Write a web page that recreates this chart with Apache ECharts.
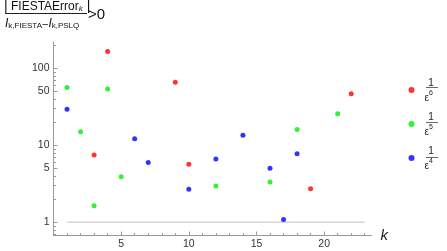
<!DOCTYPE html>
<html><head><meta charset="utf-8">
<script src="https://cdn.jsdelivr.net/npm/echarts@6/dist/echarts.min.js"></script>
<style>html,body{margin:0;padding:0;background:#fff}#c{width:447px;height:251px}</style>
</head><body><div id="c"></div>
<script>
// Data: [k, value]
const eps6 = [[3, 7.5], [4, 166], [9, 66], [10, 5.7], [19, 2.73], [22, 46.8]];
const eps5 = [[1, 56.6], [2, 15], [3, 1.64], [4, 54], [5, 3.9], [12, 2.96], [16, 3.33], [18, 16.1], [21, 25.7]];
const eps4 = [[1, 29.4], [6, 12.2], [7, 6.0], [10, 2.69], [12, 6.64], [14, 13.5], [16, 5.02], [17, 1.09], [18, 7.8]];
const refLine = [[1, 1], [23, 1]];
const xMajor = [5, 10, 15, 20];
const xMinor = [1, 2, 3, 4, 6, 7, 8, 9, 11, 12, 13, 14, 16, 17, 18, 19, 21, 22, 23];
const yMajor = [1, 5, 10, 50, 100];
const yMinor = [0.7, 0.8, 0.9, 2, 3, 4, 6, 7, 8, 9, 20, 30, 40, 60, 70, 80, 90, 200];
const seriesNames = ['e6', 'e5', 'e4'];
const seriesPowers = {e6: '6', e5: '5', e4: '4'};

const axisColor = '#9a9a9a';
const font = 'Liberation Sans, Arial, sans-serif';
const chart = echarts.init(document.getElementById('c'));
const legendRich = {
  n: {fontSize: 10, fontFamily: font, color: '#222', lineHeight: 12, align: 'center', width: 13},
  gap: {fontSize: 2, lineHeight: 1},
  d: {fontSize: 10, fontFamily: font, color: '#222', lineHeight: 13, verticalAlign: 'bottom'},
  s: {fontSize: 7, fontFamily: font, color: '#222', lineHeight: 13, verticalAlign: 'top'}
};
const legendTop = 73, legendStep = 35;
const fractionBars = seriesNames.map((n, i) => ({
  type: 'rect', left: 426, top: legendTop + 14 + i * legendStep,
  shape: {width: 12, height: 0.8}, style: {fill: '#444'}
}));
chart.setOption({
  animation: false,
  grid: {left: 53.5, top: 42, right: 75.5, bottom: 15.5, containLabel: false},
  xAxis: [{
    type: 'value', min: 0, max: 23.5,
    name: 'k', nameLocation: 'end', nameGap: 9,
    nameTextStyle: {fontStyle: 'italic', fontSize: 15, fontFamily: font, color: '#222', verticalAlign: 'middle'},
    axisLine: {lineStyle: {color: axisColor, width: 1}},
    axisTick: {inside: true, length: 4, customValues: xMajor, lineStyle: {color: axisColor}},
    axisLabel: {customValues: xMajor, fontSize: 10.5, fontFamily: font, color: '#333', margin: 3, showMaxLabel: true},
    splitLine: {show: false}
  }, {
    type: 'value', min: 0, max: 23.5, position: 'bottom',
    axisLine: {show: false},
    axisTick: {inside: true, length: 2.5, customValues: xMinor, lineStyle: {color: axisColor}},
    axisLabel: {show: false}, splitLine: {show: false}
  }],
  yAxis: [{
    type: 'log', logBase: 10, min: 0.674, max: 220,
    axisLine: {show: true, lineStyle: {color: axisColor, width: 1}},
    axisTick: {show: true, inside: true, length: 4, customValues: yMajor, lineStyle: {color: axisColor}},
    axisLabel: {customValues: yMajor, fontSize: 10.5, fontFamily: font, color: '#333', margin: 4},
    splitLine: {show: false}
  }, {
    type: 'log', logBase: 10, min: 0.674, max: 220, position: 'left',
    axisLine: {show: false},
    axisTick: {show: true, inside: true, length: 2.5, customValues: yMinor, lineStyle: {color: axisColor}},
    axisLabel: {show: false}, splitLine: {show: false}
  }],
  legend: {
    orient: 'vertical', left: 403.5, top: legendTop, itemGap: 9,
    icon: 'circle', itemWidth: 6, itemHeight: 6, selectedMode: false,
    data: seriesNames,
    formatter: name => '{n|1}\n{gap| }\n{d|ε}{s|' + seriesPowers[name] + '}',
    textStyle: {rich: legendRich, padding: [0, 0, 0, 5]}
  },
  graphic: [
    {type: 'text', left: 4, top: -1, style: {
      text: '{b||}{t| FIESTAError}{k|k}{b| |}',
      rich: {
        b: {fontSize: 14, fontFamily: font, fill: '#111', lineHeight: 14, verticalAlign: 'bottom'},
        t: {fontSize: 12, fontFamily: font, fill: '#111', lineHeight: 14, verticalAlign: 'bottom'},
        k: {fontSize: 8, fontFamily: font, fill: '#111', fontStyle: 'italic', lineHeight: 14, verticalAlign: 'bottom'}
      }}},
    {type: 'rect', left: 5, top: 13, shape: {width: 82, height: 1}, style: {fill: '#222'}},
    {type: 'text', left: 5, top: 18, style: {
      text: '{i|I}{s|k,FIESTA}{t|−}{i|I}{s|k,PSLQ}',
      rich: {
        i: {fontSize: 12, fontFamily: font, fill: '#111', fontStyle: 'italic', lineHeight: 13, verticalAlign: 'bottom'},
        s: {fontSize: 8, fontFamily: font, fill: '#111', lineHeight: 15, verticalAlign: 'bottom'},
        t: {fontSize: 11, fontFamily: font, fill: '#111', lineHeight: 13, verticalAlign: 'bottom'}
      }}},
    {type: 'text', left: 88, top: 7, style: {text: '>0', fontSize: 15, fontFamily: font, fill: '#111'}}
  ].concat(fractionBars),
  series: [
    {name: 'ref', type: 'line', data: refLine, symbol: 'none', silent: true,
      lineStyle: {color: '#d6d6d6', width: 1.6}, z: 1},
    {name: 'e6', type: 'scatter', data: eps6, symbolSize: 5, itemStyle: {color: '#ff0000'}, z: 3},
    {name: 'e5', type: 'scatter', data: eps5, symbolSize: 5, itemStyle: {color: '#00ee00'}, z: 3},
    {name: 'e4', type: 'scatter', data: eps4, symbolSize: 5, itemStyle: {color: '#0000ff'}, z: 3}
  ]
});
</script></body></html>
